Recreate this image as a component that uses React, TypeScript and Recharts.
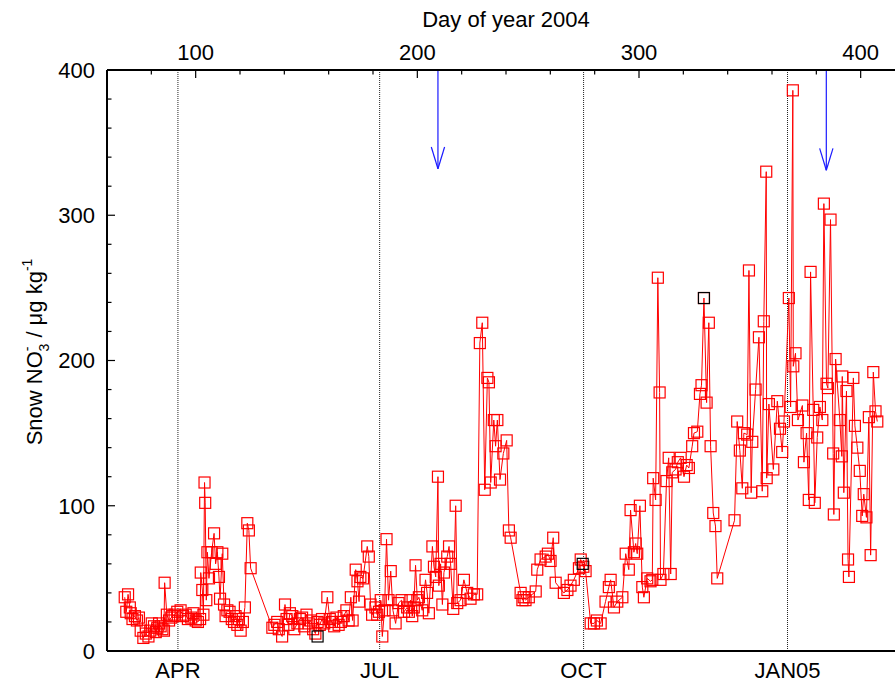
import React from "react";
import {
  ComposedChart,
  Line,
  Scatter,
  XAxis,
  YAxis,
  ReferenceLine,
  Label,
} from "recharts";

// snow nitrate samples, [day of year 2004, NO3- ug/kg]
const marApr: [number, number][] = [
  [68.0, 37], [68.7, 27], [69.5, 39], [70.3, 30], [70.7, 26], [71.5, 22], [72.6, 24],
  [73.5, 21], [74.4, 23], [75.2, 14], [76.4, 9], [77.5, 12], [78.7, 10], [79.5, 14],
  [80.2, 19], [81.2, 17], [82.0, 13], [82.7, 16], [83.5, 19], [84.2, 17], [85.0, 15],
  [85.7, 14], [86.0, 47], [87.0, 25], [88.0, 21], [89.0, 23], [89.5, 24], [90.5, 25],
  [91.7, 27], [93.2, 28], [94.3, 24], [95.5, 25], [96.5, 22], [98.0, 23], [99.0, 26],
  [100.0, 21], [101.0, 20], [102.0, 22], [102.3, 54], [103.0, 42], [103.5, 25],
  [104.0, 116], [104.3, 102], [104.8, 35], [105.3, 68], [106.0, 50], [107.2, 68],
  [108.3, 81], [109.0, 60], [109.8, 68], [110.5, 51], [111.0, 36], [112.0, 67],
  [112.8, 32], [113.5, 24], [114.3, 28], [115.3, 27], [116.3, 22], [117.3, 20],
  [118.0, 24], [118.8, 18], [119.5, 22], [120.3, 14], [121.3, 20], [122.2, 30],
  [123.3, 88], [124.0, 83], [124.8, 57],
];

const mayJun: [number, number][] = [
  [134.6, 16], [135.5, 18], [136.8, 20], [137.5, 15], [139.0, 10], [140.3, 32],
  [141.0, 22], [141.8, 18], [142.5, 26], [143.6, 24], [144.5, 15], [145.9, 19],
  [147.0, 22], [148.0, 23], [149.0, 17], [150.0, 25], [151.0, 19], [152.0, 21],
  [153.0, 15], [154.0, 12], [155.0, 20], [156.0, 18], [157.0, 22], [158.0, 19],
  [159.4, 37], [160.5, 22], [161.5, 20], [162.5, 17], [163.5, 23], [164.5, 18],
  [165.5, 20], [166.8, 24], [168.0, 28], [169.0, 21], [170.0, 37], [170.8, 21],
  [172.2, 56], [173.0, 48], [173.7, 34], [174.3, 51], [175.5, 50], [177.4, 72],
  [178.1, 65], [178.9, 32], [179.6, 25], [181.1, 30], [181.9, 25], [182.7, 27],
];

const julSep: [number, number][] = [
  [183.5, 35], [184.2, 10], [185.2, 28], [186.1, 77], [187.0, 35], [188.0, 55],
  [189.0, 28], [190.2, 19], [191.5, 33], [192.9, 35], [194.0, 27], [195.4, 30],
  [196.2, 27], [196.9, 35], [197.7, 24], [198.4, 30], [199.2, 59], [200.0, 35],
  [200.7, 37], [202.2, 28], [203.7, 49], [204.4, 40], [205.2, 26], [206.8, 72],
  [207.5, 58], [208.3, 51], [209.3, 120], [209.7, 45], [210.5, 60], [211.3, 32],
  [212.0, 54], [213.5, 65], [214.3, 72], [215.0, 60], [216.2, 29], [217.3, 100],
  [218.0, 33], [219.5, 35], [221.0, 49], [222.5, 40], [224.0, 36], [225.5, 39],
  [227.0, 39], [228.2, 212], [229.3, 226], [230.4, 111], [231.6, 188], [232.3, 185],
  [233.1, 116], [234.5, 159], [235.3, 141], [236.1, 159], [237.3, 118], [238.8, 136],
  [240.3, 145], [241.3, 83], [242.1, 78], [246.6, 40], [247.4, 35], [248.0, 37],
  [248.8, 35], [250.3, 37], [253.4, 41], [254.1, 56], [255.6, 63], [257.9, 65],
  [258.9, 67], [260.1, 62], [261.3, 78], [262.4, 47], [266.1, 40], [267.7, 42],
  [269.1, 45], [270.6, 49], [272.9, 57], [273.7, 63], [274.9, 58], [275.9, 55],
];

const octDec: [number, number][] = [
  [278.2, 19], [279.7, 19], [281.0, 21], [282.7, 19], [284.9, 34], [286.4, 44],
  [287.2, 49], [288.7, 30], [290.2, 34], [292.5, 37], [294.0, 67], [295.4, 56],
  [296.2, 97], [297.7, 68], [298.5, 74], [299.2, 67], [300.4, 100], [301.5, 44],
  [302.2, 37], [303.7, 50], [305.2, 48], [306.0, 49], [306.4, 119], [307.5, 104],
  [308.5, 257], [309.3, 178], [309.7, 49], [311.0, 53], [312.4, 117], [313.4, 133],
  [314.3, 53], [315.0, 123], [316.5, 125], [317.5, 130], [318.8, 133], [320.3, 120],
  [321.5, 128], [322.5, 126], [324.0, 141], [324.8, 150], [326.3, 151], [327.5, 177],
  [328.2, 183], [329.3, 243], [330.5, 171], [331.5, 226], [332.3, 141], [333.5, 95],
  [334.5, 86], [335.3, 50], [343.1, 90], [344.3, 158], [345.5, 138], [346.6, 112],
  [347.3, 150], [348.8, 149], [349.6, 262], [350.6, 109], [351.1, 144], [352.6, 180],
  [354.1, 216], [355.6, 110], [356.3, 227], [357.4, 330], [357.6, 119], [358.6, 170],
  [360.6, 125], [362.4, 172], [363.6, 153], [364.6, 137], [365.4, 158],
];

const janFeb: [number, number][] = [
  [367.6, 243], [368.4, 168], [369.4, 386], [369.6, 196], [370.6, 205], [371.7, 159],
  [373.7, 169], [374.4, 130], [375.6, 150], [376.6, 104], [377.4, 261], [378.6, 166],
  [379.3, 102], [380.4, 147], [381.6, 168], [382.7, 159], [383.4, 308], [384.6, 184],
  [385.2, 181], [386.4, 297], [387.6, 136], [387.9, 94], [388.7, 201], [390.6, 159],
  [391.5, 134], [391.7, 189], [392.4, 109], [393.6, 179], [394.3, 63], [394.7, 51],
  [396.7, 188], [397.4, 155], [398.5, 140], [399.6, 124], [400.7, 93], [401.4, 108],
  [402.6, 92], [403.7, 161], [404.5, 66], [405.7, 192], [406.7, 165], [407.5, 158],
];

// a few samples drawn in black
const blackPts: [number, number][] = [[155.0, 10], [274.6, 60], [329.3, 243]];

const monthDays = [92, 183, 275, 367];
const monthNames = ["APR", "JUL", "OCT", "JAN05"];
const topTicks = [80, 100, 120, 140, 160, 180, 200, 220, 240, 260, 280, 300, 320, 340, 360, 380, 400];
const yTicks = [0, 20, 40, 60, 80, 100, 120, 140, 160, 180, 200, 220, 240, 260, 280, 300, 320, 340, 360, 380, 400];

// blue arrows marking events: [day, tip value]
const arrows: [number, number][] = [[209.3, 332], [384.5, 331]];

const FONT = "Arial, 'Liberation Sans', sans-serif";
const FS = 22;

const toRows = (pts: [number, number][]) => pts.map(([day, v]) => ({ day, v }));
const redRows = toRows([...marApr, ...mayJun, ...julSep, ...octDec, ...janFeb]).sort((a, b) => a.day - b.day);
const blackRows = toRows(blackPts);

const Box = (color: string) => (props: any) => {
  const { cx, cy, index } = props;
  if (cx == null || cy == null) return <g key={`e${index}`} />;
  return (
    <rect
      key={`${color}${index}`}
      x={cx - 5.5}
      y={cy - 5.5}
      width={11}
      height={11}
      fill="none"
      stroke={color}
      strokeWidth={1.2}
    />
  );
};

const TopTick = (props: any) => {
  const { x, y, payload } = props;
  const major = payload.value % 100 === 0;
  return (
    <g>
      <line x1={x} x2={x} y1={y} y2={y + (major ? 8 : 4.5)} stroke="#000" strokeWidth={1.2} />
      {major && (
        <text x={x} y={y - 10} textAnchor="middle" fontSize={FS} fontFamily={FONT} fill="#000">
          {payload.value}
        </text>
      )}
    </g>
  );
};

const LeftTick = (props: any) => {
  const { x, y, payload } = props;
  const major = payload.value % 100 === 0;
  return (
    <g>
      <line x1={x} x2={x + (major ? 8 : 4.5)} y1={y} y2={y} stroke="#000" strokeWidth={1.2} />
      {major && (
        <text x={x - 12} y={y} dy="0.36em" textAnchor="end" fontSize={FS} fontFamily={FONT} fill="#000">
          {payload.value}
        </text>
      )}
    </g>
  );
};

const BottomTick = (props: any) => {
  const { x, y, payload, index } = props;
  return (
    <text x={x} y={y + 27} textAnchor="middle" fontSize={FS} fontFamily={FONT} fill="#000">
      {monthNames[index] ?? payload.value}
    </text>
  );
};

export default function App() {
  return (
    <div style={{ position: "absolute", left: 0, top: 0, width: 895, height: 682, overflow: "hidden", background: "#fff" }}>
      <ComposedChart
        width={910}
        height={682}
        data={redRows}
        margin={{ top: 30, right: 5, left: 47, bottom: 6 }}
      >
        <XAxis
          xAxisId="bottom"
          dataKey="day"
          type="number"
          domain={[60, 420]}
          ticks={monthDays}
          interval={0}
          tickSize={0}
          tickMargin={0}
          height={25}
          tick={<BottomTick />}
          axisLine={{ stroke: "#000", strokeWidth: 2 }}
          tickLine={false}
        />
        <XAxis
          xAxisId="top"
          orientation="top"
          dataKey="day"
          type="number"
          domain={[60, 420]}
          ticks={topTicks}
          interval={0}
          tickSize={0}
          tickMargin={0}
          height={40}
          tick={<TopTick />}
          axisLine={{ stroke: "#000", strokeWidth: 2 }}
          tickLine={false}
        >
          <Label
            content={() => (
              <text x={506} y={27} textAnchor="middle" fontSize={FS} fontFamily={FONT} fill="#000">
                Day of year 2004
              </text>
            )}
          />
        </XAxis>
        <YAxis
          type="number"
          domain={[0, 400]}
          ticks={yTicks}
          interval={0}
          tickSize={0}
          tickMargin={0}
          width={60}
          tick={<LeftTick />}
          axisLine={{ stroke: "#000", strokeWidth: 2 }}
          tickLine={false}
        >
          <Label
            content={() => (
              <text
                x={42}
                y={352}
                transform="rotate(-90, 42, 352)"
                textAnchor="middle"
                fontSize={FS}
                fontFamily={FONT}
                fill="#000"
              >
                <tspan>Snow NO</tspan>
                <tspan fontSize={14} dy={-10}>-</tspan>
                <tspan fontSize={14} dx={-5} dy={17}>3</tspan>
                <tspan dy={-7}> / μg kg</tspan>
                <tspan fontSize={14} dy={-10}>-1</tspan>
              </text>
            )}
          />
        </YAxis>

        {monthDays.map((d) => (
          <ReferenceLine
            key={`m${d}`}
            xAxisId="bottom"
            x={d}
            stroke="#222"
            strokeWidth={1}
            strokeDasharray="1 1"
          />
        ))}

        {arrows.map(([d, tip]) => (
          <ReferenceLine
            key={`a${d}`}
            xAxisId="bottom"
            segment={[{ x: d, y: 400 }, { x: d, y: tip }]}
            stroke="#1a1aff"
            strokeWidth={1.2}
          />
        ))}
        {arrows.map(([d, tip]) => (
          <ReferenceLine
            key={`hl${d}`}
            xAxisId="bottom"
            segment={[{ x: d - 3, y: tip + 15 }, { x: d, y: tip }]}
            stroke="#1a1aff"
            strokeWidth={1.2}
          />
        ))}
        {arrows.map(([d, tip]) => (
          <ReferenceLine
            key={`hr${d}`}
            xAxisId="bottom"
            segment={[{ x: d + 3, y: tip + 15 }, { x: d, y: tip }]}
            stroke="#1a1aff"
            strokeWidth={1.2}
          />
        ))}

        <Line
          xAxisId="bottom"
          dataKey="v"
          type="linear"
          stroke="#ff0000"
          strokeWidth={1}
          dot={Box("#ff0000")}
          activeDot={false}
          isAnimationActive={false}
        />
        <Scatter
          xAxisId="bottom"
          data={blackRows}
          dataKey="v"
          shape={(p: any) => (
            <rect x={p.cx - 5.5} y={p.cy - 5.5} width={11} height={11} fill="none" stroke="#000" strokeWidth={1.2} />
          )}
          isAnimationActive={false}
        />
      </ComposedChart>
    </div>
  );
}
